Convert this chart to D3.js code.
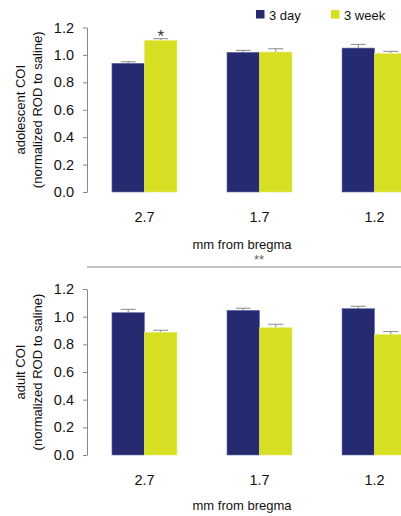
<!DOCTYPE html>
<html>
<head>
<meta charset="utf-8">
<script src="https://cdn.jsdelivr.net/npm/d3@7"></script>
<style>
  body { margin: 0; background: #fff; }
  svg { display: block; font-family: "Liberation Sans", Arial, sans-serif; }
</style>
</head>
<body>
<svg id="chart" width="401" height="516"></svg>
<script>
const categories = ["2.7", "1.7", "1.2"];
const seriesNames = ["3 day", "3 week"];
const yTicks = [0, 0.2, 0.4, 0.6, 0.8, 1.0, 1.2];

// adolescent panel
const adolescentDay = [0.939, 1.019, 1.050];
const adolescentDayErr = [0.011, 0.014, 0.027];
const adolescentWeek = [1.106, 1.021, 1.009];
const adolescentWeekErr = [0.012, 0.024, 0.017];

// adult panel
const adultDay = [1.029, 1.046, 1.058];
const adultDayErr = [0.024, 0.015, 0.017];
const adultWeek = [0.887, 0.920, 0.870];
const adultWeekErr = [0.015, 0.025, 0.022];

const colours = { "3 day": "#262a70", "3 week": "#d6df21" };
const edges = { "3 day": "#6a6ea6", "3 week": "#e6ec70" };
const greyLine = "#888";

const svg = d3.select("#chart");

const x = d3.scaleBand()
    .domain(categories)
    .range([87, 432])
    .paddingInner(0.435)
    .paddingOuter(0.217);

const xSeries = d3.scaleBand()
    .domain(seriesNames)
    .range([0, x.bandwidth()]);

const drawPanel = (opts) => {
    const { top, bottom, lines, day, dayErr, week, weekErr, stars, titleY } = opts;

    const y = d3.scaleLinear().domain([0, 1.2]).range([bottom, top]);
    const g = svg.append("g");

    const axis = g.append("g")
        .attr("transform", "translate(87,0)")
        .call(d3.axisLeft(y).tickValues(yTicks).tickFormat(d3.format(".1f"))
            .tickSize(4).tickSizeOuter(0).tickPadding(9));
    axis.select(".domain").attr("stroke", greyLine);
    axis.selectAll(".tick line").attr("stroke", greyLine);
    axis.selectAll(".tick text")
        .attr("font-size", 14.5)
        .attr("font-family", "'Liberation Sans', Arial, sans-serif")
        .attr("fill", "#111");

    // y label, two rotated lines
    const mid = (top + bottom) / 2;
    const lab = g.append("text")
        .attr("transform", `translate(20,${mid}) rotate(-90)`)
        .attr("text-anchor", "middle")
        .attr("font-size", 13)
        .attr("fill", "#111");
    lines.forEach((t, i) => {
        lab.append("tspan").attr("x", 0).attr("dy", i === 0 ? "0.35em" : 17).text(t);
    });

    const rows = categories.map((c, i) => [
        { cat: c, s: "3 day", v: day[i], e: dayErr[i] },
        { cat: c, s: "3 week", v: week[i], e: weekErr[i] }
    ]).flat();

    // error bars (upper only)
    const eb = g.selectAll(".err").data(rows).enter().append("g").attr("class", "err");
    eb.append("line")
        .attr("x1", d => x(d.cat) + xSeries(d.s) + xSeries.bandwidth() / 2)
        .attr("x2", d => x(d.cat) + xSeries(d.s) + xSeries.bandwidth() / 2)
        .attr("y1", d => y(d.v))
        .attr("y2", d => y(d.v + d.e))
        .attr("stroke", greyLine);
    eb.append("line")
        .attr("x1", d => x(d.cat) + xSeries(d.s) + xSeries.bandwidth() / 2 - 7.5)
        .attr("x2", d => x(d.cat) + xSeries(d.s) + xSeries.bandwidth() / 2 + 7.5)
        .attr("y1", d => y(d.v + d.e))
        .attr("y2", d => y(d.v + d.e))
        .attr("stroke", greyLine);

    g.selectAll(".bar").data(rows).enter().append("rect")
        .attr("class", "bar")
        .attr("x", d => x(d.cat) + xSeries(d.s))
        .attr("width", xSeries.bandwidth())
        .attr("y", d => y(d.v))
        .attr("height", d => y(0) - y(d.v))
        .attr("fill", d => colours[d.s])
        .attr("stroke", d => edges[d.s])
        .attr("stroke-width", 0.6);

    // x tick labels
    g.selectAll(".xlab").data(categories).enter().append("text")
        .attr("x", d => x(d) + x.bandwidth() / 2)
        .attr("y", bottom + 30)
        .attr("text-anchor", "middle")
        .attr("font-size", 14.5)
        .attr("fill", "#111")
        .text(d => d);

    g.append("text")
        .attr("x", 242)
        .attr("y", titleY)
        .attr("text-anchor", "middle")
        .attr("font-size", 13)
        .attr("fill", "#111")
        .text("mm from bregma");

    // significance marks on individual bars
    stars.forEach(st => {
        const i = categories.indexOf(st.cat);
        const v = st.s === "3 day" ? day[i] + dayErr[i] : week[i] + weekErr[i];
        g.append("text")
            .attr("x", x(st.cat) + xSeries(st.s) + xSeries.bandwidth() / 2)
            .attr("y", y(v) + 3)
            .attr("text-anchor", "middle")
            .attr("font-size", 17)
            .attr("fill", "#333")
            .text(st.mark);
    });
};

drawPanel({
    top: 27.5, bottom: 192, titleY: 249,
    lines: ["adolescent COI", "(normalized ROD to saline)"],
    day: adolescentDay, dayErr: adolescentDayErr,
    week: adolescentWeek, weekErr: adolescentWeekErr,
    stars: [{ cat: "2.7", s: "3 week", mark: "*" }]
});

drawPanel({
    top: 289, bottom: 455, titleY: 510,
    lines: ["adult COI", "(normalized ROD to saline)"],
    day: adultDay, dayErr: adultDayErr,
    week: adultWeek, weekErr: adultWeekErr,
    stars: []
});

// age effect across the adult panel
svg.append("line")
    .attr("x1", 87).attr("x2", 401)
    .attr("y1", 267).attr("y2", 267)
    .attr("stroke", greyLine);
svg.append("text")
    .attr("x", 259).attr("y", 264)
    .attr("text-anchor", "middle")
    .attr("font-size", 13)
    .attr("fill", "#666")
    .text("**");

// legend
const legend = svg.append("g").attr("transform", "translate(256,10)");
const lx = d3.scaleOrdinal().domain(seriesNames).range([0, 75]);
seriesNames.forEach(s => {
    legend.append("rect")
        .attr("x", lx(s)).attr("y", 0)
        .attr("width", 8.5).attr("height", 8.5)
        .attr("fill", colours[s]);
    legend.append("text")
        .attr("x", lx(s) + 13).attr("y", 9.5)
        .attr("font-size", 13)
        .attr("fill", "#111")
        .text(s);
});
</script>
</body>
</html>
